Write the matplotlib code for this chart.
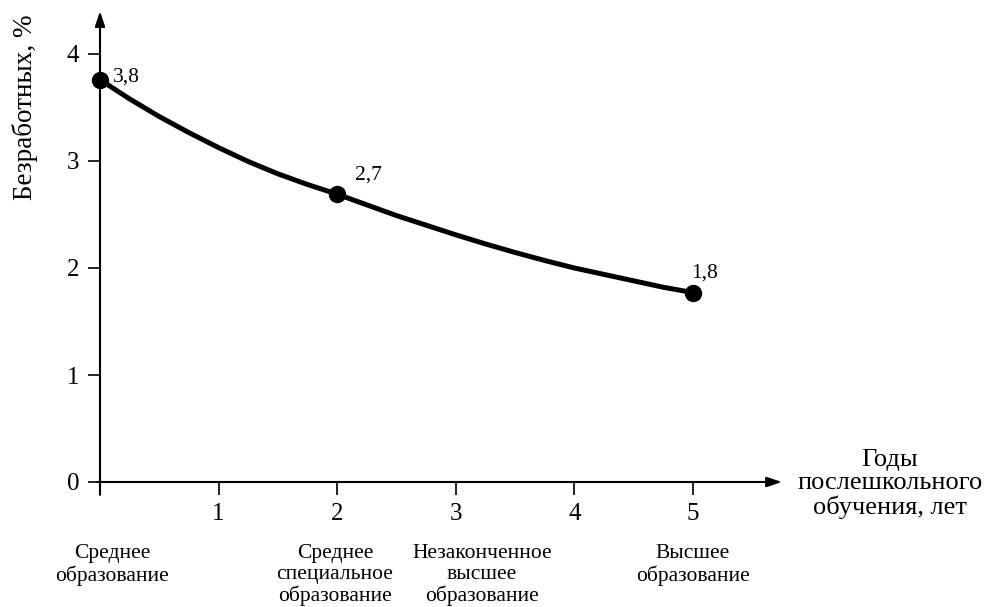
import numpy as np
import matplotlib.pyplot as plt

# ==============================================================================
# ДАННЫЕ
# ==============================================================================
# опорные точки (годы послешкольного обучения -> безработных, %)
years = [0, 2, 5]
unemployed = [3.76, 2.69, 1.77]
point_labels = ["3,8", "2,7", "1,8"]

# кривая
curve_x = [0, 0.25, 0.5, 0.75, 1, 1.25, 1.5, 1.75, 2,
           2.25, 2.5, 2.75, 3, 3.25, 3.5, 3.75, 4, 4.25, 4.5, 4.75, 5]
curve_y = [3.76, 3.58, 3.415, 3.265, 3.125, 2.995, 2.88, 2.78, 2.69,
           2.59, 2.49, 2.40, 2.31, 2.225, 2.145, 2.07, 2.00, 1.94, 1.88, 1.82, 1.77]

x_ticks = [1, 2, 3, 4, 5]
y_ticks = [0, 1, 2, 3, 4]

education = ["Среднее\nобразование", "Среднее\nспециальное\nобразование",
             "Незаконченное\nвысшее\nобразование", "Высшее\nобразование"]
education_x = [0.1, 1.98, 3.22, 5.0]

plt.rcParams['font.family'] = ['Liberation Serif', 'DejaVu Serif']

fig = plt.figure(figsize=(9.87, 6.07), dpi=100)
W, H = 987, 607
x_px, y_px = 118.6, 107.0
xmax, ymax = 5.75, 4.4
ax = fig.add_axes([100 / W, 125 / H, xmax * x_px / W, ymax * y_px / H])
ax.set_xlim(0, xmax)
ax.set_ylim(0, ymax)

for s in ax.spines.values():
    s.set_visible(False)

# оси со стрелками
arrow = dict(arrowstyle="-|>,head_length=0.9,head_width=0.3", color="black",
             lw=1.5, shrinkA=0, shrinkB=0)
ax.annotate("", xy=(xmax, 0), xytext=(-0.02, 0), arrowprops=arrow, annotation_clip=False)
ax.annotate("", xy=(0, ymax), xytext=(0, -0.12), arrowprops=arrow, annotation_clip=False)

ax.set_xticks(x_ticks)
ax.set_yticks(y_ticks)
ax.tick_params(axis="x", direction="out", length=9, width=1.2, labelsize=18, pad=6)
ax.tick_params(axis="y", direction="out", length=9, width=1.2, labelsize=18, pad=6)

# кривая и точки
ax.plot(curve_x, curve_y, color="black", lw=3.6, solid_capstyle="round",
        solid_joinstyle="round", clip_on=False)
ax.plot(years, unemployed, "o", color="black", ms=11.5, clip_on=False, zorder=5)

offsets = [(9, 2), (13, 14), (-1, 14)]
for xv, yv, lab, off in zip(years, unemployed, point_labels, offsets):
    ax.annotate(lab, xy=(xv, yv), xytext=off, textcoords="offset points",
                ha="left", va="center", fontsize=15.5)

ax.set_ylabel("Безработных, %", fontsize=19.5)
ax.yaxis.set_label_coords(-0.091, 0.795)

fig.text(890 / W, 1 - 484 / H, "Годы\nпослешкольного\nобучения, лет",
         ha="center", va="center", fontsize=19, linespacing=1.05)

for lab, xv in zip(education, education_x):
    ax.text(xv, -0.58, lab, ha="center", va="top", fontsize=15.5, linespacing=1.13)

plt.savefig("out.png", dpi=100)
